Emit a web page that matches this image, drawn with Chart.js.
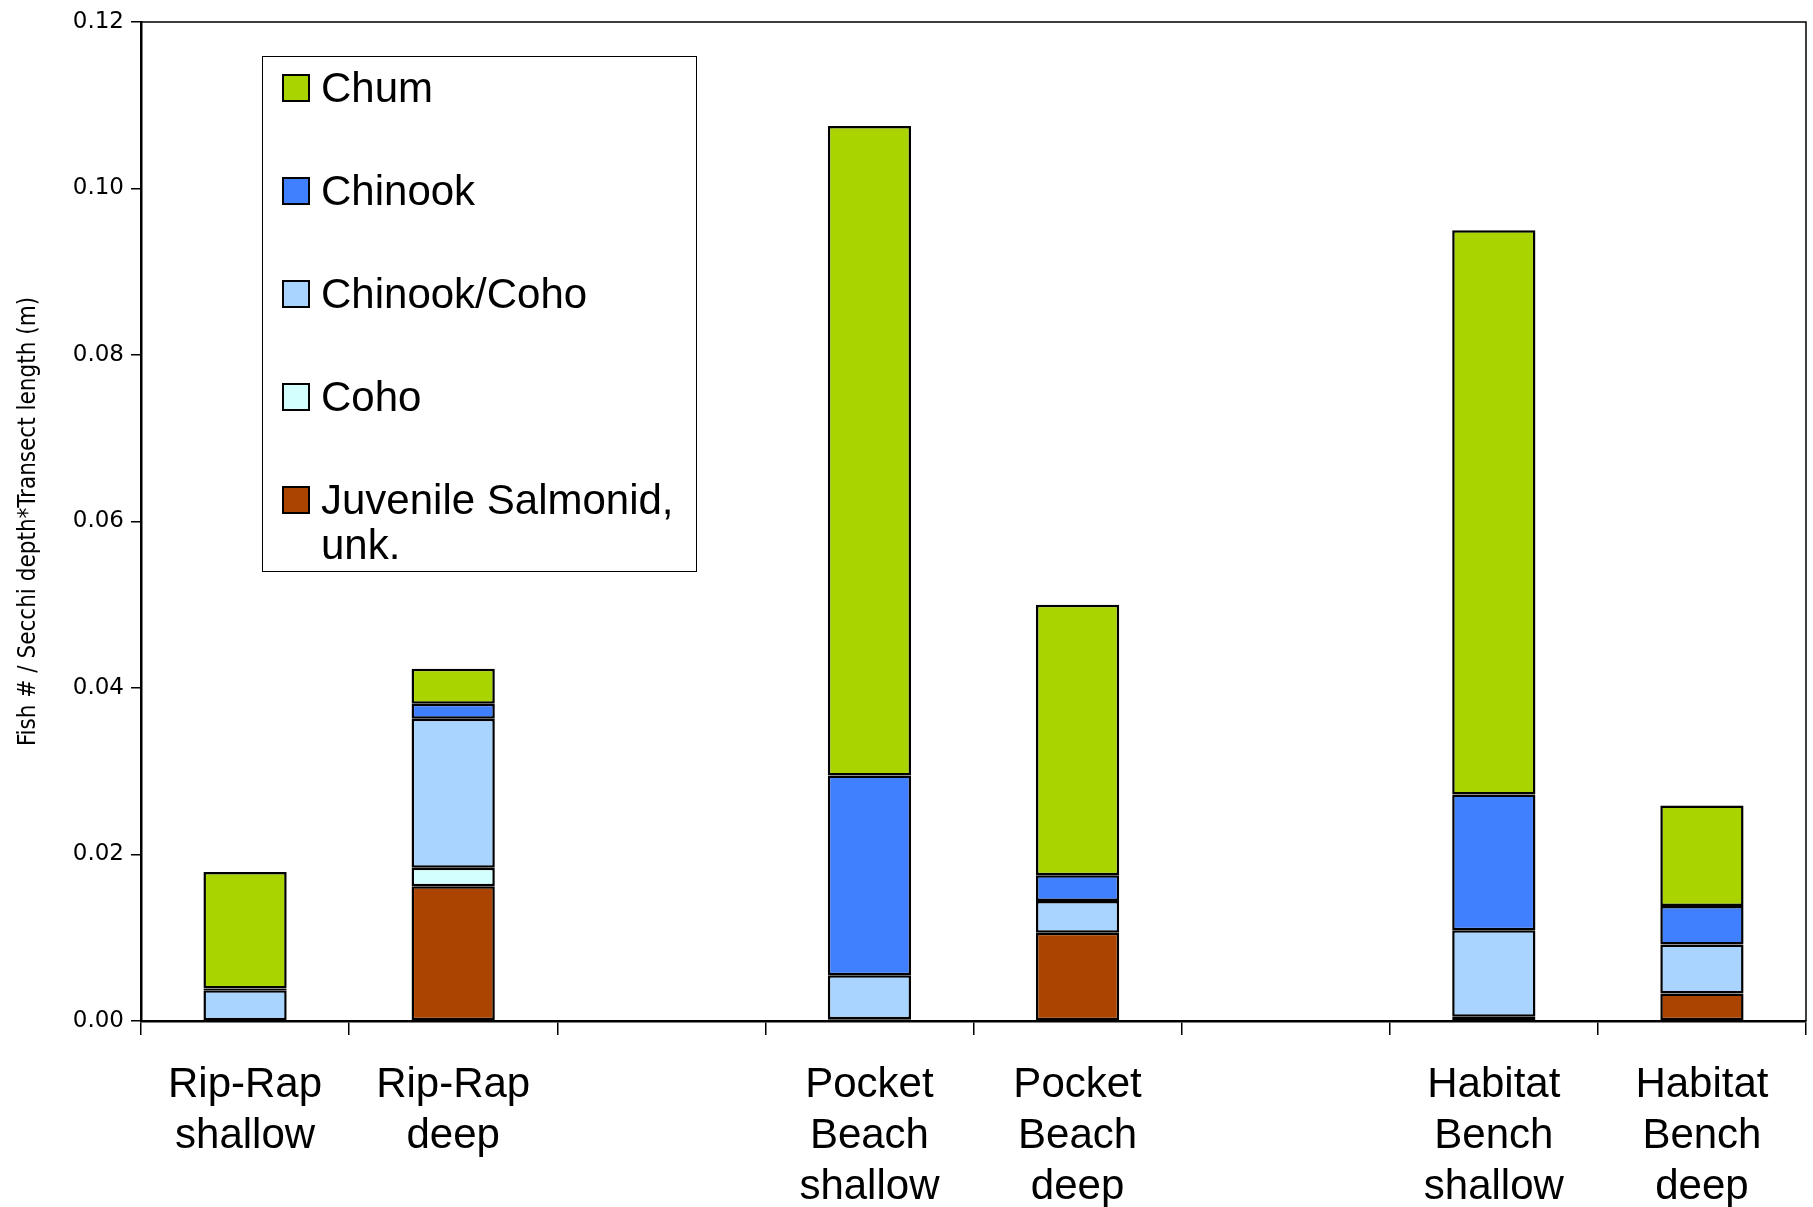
<!DOCTYPE html>
<html>
<head>
<meta charset="utf-8">
<script src="https://cdn.jsdelivr.net/npm/chart.js@4/dist/chart.umd.min.js"></script>
<style>
  body { margin: 0; background: #fff; }
</style>
</head>
<body>
<canvas id="fishChart" width="1813" height="1207"></canvas>
<script>
// categories (empty slots are gaps between site types)
const sites = [
  ['Rip-Rap', 'shallow'], ['Rip-Rap', 'deep'], '',
  ['Pocket', 'Beach', 'shallow'], ['Pocket', 'Beach', 'deep'], '',
  ['Habitat', 'Bench', 'shallow'], ['Habitat', 'Bench', 'deep']
];

// series values (stacked bottom -> top), null = none
const juvenile    = [null,   0.0162, null, 0.0002, 0.0106, null, 0.0005, 0.0033];
const coho        = [null,   0.0022, null, null,   null,   null, null,   null];
const chinookCoho = [0.0037, 0.0179, null, 0.0053, 0.0038, null, 0.0104, 0.0059];
const chinook     = [0.0002, 0.0018, null, 0.0240, 0.0031, null, 0.0163, 0.0046];
const chum        = [0.0140, 0.0042, null, 0.0780, 0.0325, null, 0.0678, 0.0121];

const yTicks = [0, 0.02, 0.04, 0.06, 0.08, 0.10, 0.12];

const series = [
  { label: 'Juvenile Salmonid, unk.', data: juvenile,    color: '#AA4400' },
  { label: 'Coho',                    data: coho,        color: '#D4FFFF' },
  { label: 'Chinook/Coho',            data: chinookCoho, color: '#A8D4FF' },
  { label: 'Chinook',                 data: chinook,     color: '#4080FF' },
  { label: 'Chum',                    data: chum,        color: '#AAD400' }
];

// legend drawn inside the plot, boxed, top-down order Chum ... Juvenile
const boxLegend = {
  id: 'boxLegend',
  afterDraw(chart) {
    const ctx = chart.ctx;
    const a = chart.chartArea;
    const x0 = a.left + 121, y0 = a.top + 34, w = 434, h = 515;
    ctx.save();
    ctx.strokeStyle = '#000';
    ctx.lineWidth = 1;
    ctx.strokeRect(x0 + 0.5, y0 + 0.5, w, h);
    ctx.font = '42px "Liberation Sans", Arial, sans-serif';
    ctx.textBaseline = 'middle';
    const items = chart.data.datasets.slice().reverse();
    items.forEach((ds, i) => {
      const cy = y0 + 32 + i * 103;
      ctx.fillStyle = ds.backgroundColor;
      ctx.fillRect(x0 + 21, cy - 13, 26, 26);
      ctx.lineWidth = 2;
      ctx.strokeRect(x0 + 21, cy - 13, 26, 26);
      ctx.fillStyle = '#000';
      // simple word wrap
      const maxW = w - 70;
      const words = ds.label.split(' ');
      const lines = [];
      let cur = '';
      words.forEach(wd => {
        const t = cur ? cur + ' ' + wd : wd;
        if (ctx.measureText(t).width > maxW && cur) { lines.push(cur); cur = wd; }
        else cur = t;
      });
      lines.push(cur);
      lines.forEach((ln, j) => ctx.fillText(ln, x0 + 59, cy + 2 + j * 45));
    });
    ctx.restore();
  }
};

// top and right frame of the plot area
const frame = {
  id: 'frame',
  afterDraw(chart) {
    const ctx = chart.ctx;
    const a = chart.chartArea;
    ctx.save();
    ctx.strokeStyle = '#000';
    ctx.lineWidth = 1.5;
    ctx.beginPath();
    ctx.moveTo(a.left, a.top);
    ctx.lineTo(a.right, a.top);
    ctx.lineTo(a.right, a.bottom);
    ctx.stroke();
    ctx.restore();
  }
};

new Chart(document.getElementById('fishChart'), {
  type: 'bar',
  data: {
    labels: sites,
    datasets: series.map(s => ({
      label: s.label,
      data: s.data,
      backgroundColor: s.color,
      borderColor: '#000',
      borderWidth: 2.5,
      borderSkipped: false,
      categoryPercentage: 1,
      barPercentage: 0.4
    }))
  },
  options: {
    responsive: false,
    animation: false,
    layout: { padding: { left: 0, right: 7, top: 22, bottom: 0 } },
    plugins: {
      legend: { display: false },
      tooltip: { enabled: false }
    },
    scales: {
      x: {
        stacked: true,
        afterFit(s) { s.height = 186; },
        grid: { offset: true, drawOnChartArea: false, color: '#000', lineWidth: 1.5, tickLength: 14 },
        border: { color: '#000', width: 2.5 },
        ticks: {
          autoSkip: false,
          maxRotation: 0,
          padding: 25,
          color: '#000',
          font: { family: '"Liberation Sans", Arial, sans-serif', size: 42, lineHeight: 1.21 }
        }
      },
      y: {
        stacked: true,
        min: 0,
        max: 0.12,
        afterFit(s) { s.width = 141; },
        afterBuildTicks(s) { s.ticks = yTicks.map(v => ({ value: v })); },
        grid: { drawOnChartArea: false, color: '#000', lineWidth: 1.5, tickLength: 10 },
        border: { color: '#000', width: 2.5 },
        ticks: {
          padding: 7,
          color: '#000',
          font: { family: '"DejaVu Sans", sans-serif', size: 23 },
          callback: v => v.toFixed(2)
        },
        title: {
          display: true,
          text: 'Fish # / Secchi depth*Transect length (m)',
          color: '#000',
          padding: { top: 14, bottom: 4 },
          font: { family: '"Liberation Sans Narrow", "DejaVu Sans Condensed", sans-serif', size: 24 }
        }
      }
    }
  },
  plugins: [boxLegend, frame]
});
</script>
</body>
</html>
